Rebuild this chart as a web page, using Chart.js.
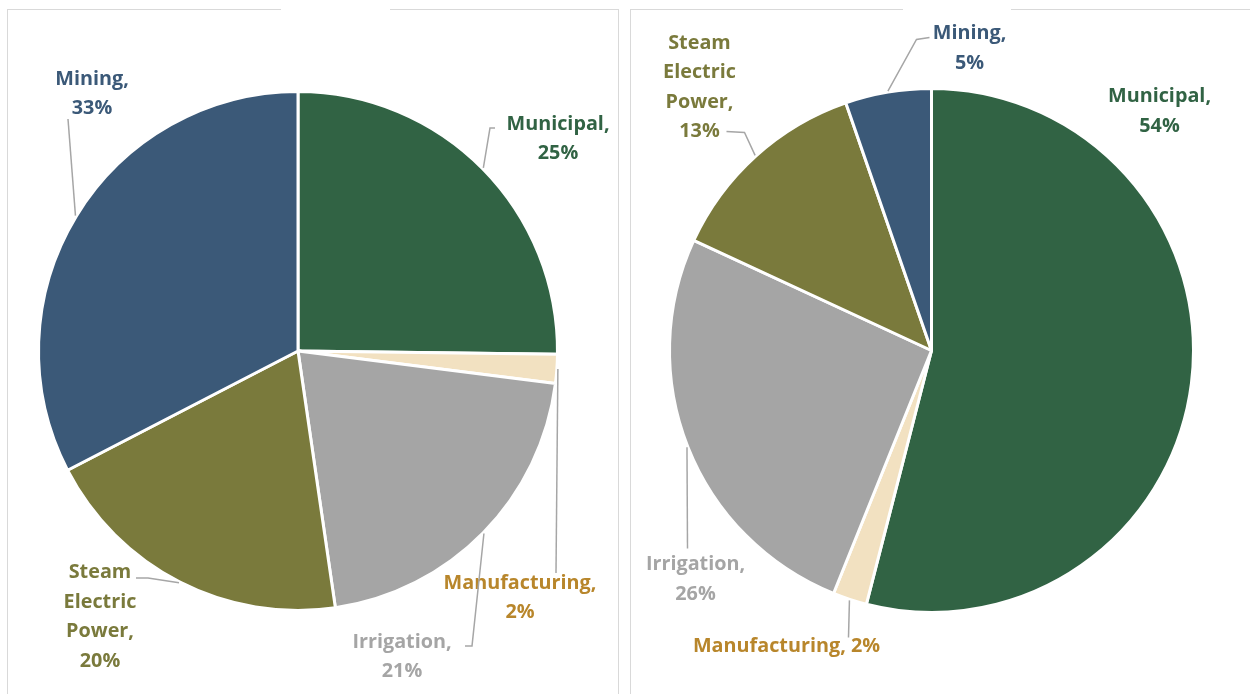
<!DOCTYPE html>
<html>
<head>
<meta charset="utf-8">
<script src="https://cdn.jsdelivr.net/npm/chart.js@4"></script>
<style>
  body { margin: 0; background: #fff; width: 1250px; height: 694px; overflow: hidden; position: relative; }
  .panel { position: absolute; border: 1.5px solid #d9d9d9; background: #fff; }
  #leftPanel { left: 7px; top: 9px; width: 610px; height: 700px; }
  #rightPanel { left: 630px; top: 9px; width: 640px; height: 700px; }
  .gap { position: absolute; top: 6px; height: 6px; background: #fff; }
  canvas { position: absolute; left: 0; top: 0; }
</style>
</head>
<body>
<div class="panel" id="leftPanel"><canvas id="leftChart"></canvas></div>
<div class="panel" id="rightPanel"><canvas id="rightChart"></canvas></div>
<div class="gap" style="left:281px;width:109px"></div>
<div class="gap" style="left:903px;width:108px"></div>
<script>
'use strict';

// categories in clockwise order from 12 o'clock
let leftCategories = ['Municipal', 'Manufacturing', 'Irrigation', 'Steam Electric Power', 'Mining'];
let leftValues = [25.2, 1.8, 20.7, 19.7, 32.6];
let leftLabels = ['25%', '2%', '21%', '20%', '33%'];

let rightCategories = ['Municipal', 'Manufacturing', 'Irrigation', 'Steam Electric Power', 'Mining'];
let rightValues = [54, 2.1, 25.8, 12.8, 5.3];
let rightLabels = ['54%', '2%', '26%', '13%', '5%'];

let sliceColors = {
  'Municipal': '#316344',
  'Manufacturing': '#f2e1c1',
  'Irrigation': '#a5a5a5',
  'Steam Electric Power': '#7a7a3c',
  'Mining': '#3b5978'
};
let textColors = {
  'Municipal': '#316344',
  'Manufacturing': '#b8862b',
  'Irrigation': '#a5a5a5',
  'Steam Electric Power': '#7a7a3c',
  'Mining': '#3b5978'
};

// label placement relative to the pie center: text block center, leader start, optional elbow
let leftLayout = [
  { lines: (c, p) => [c + ',', p], text: [260, -212], start: [197, -223], elbow: [192, -223] },
  { lines: (c, p) => [c + ',', p], text: [222, 247], start: [258, 222] },
  { lines: (c, p) => [c + ',', p], text: [104, 306], start: [167, 295], elbow: [174, 295] },
  { lines: (c, p) => ['Steam', 'Electric', 'Power,', p], text: [-198, 266], start: [-162, 227], elbow: [-150, 227] },
  { lines: (c, p) => [c + ',', p], text: [-206, -257], start: [-230, -232] }
];
let rightLayout = [
  { lines: (c, p) => [c + ',', p], text: [228, -239] },
  { lines: (c, p) => [c + ', ' + p], text: [-145, 296], start: [-83, 287] },
  { lines: (c, p) => [c + ',', p], text: [-236, 229], start: [-244, 198] },
  { lines: (c, p) => ['Steam', 'Electric', 'Power,', p], text: [-232, -263], start: [-205, -219], elbow: [-187, -218] },
  { lines: (c, p) => [c + ',', p], text: [38, -302], start: [-2, -313], elbow: [-15, -311] }
];

let labelPlugin = {
  id: 'pieLabels',
  afterDraw(chart, args, opts) {
    let ctx = chart.ctx;
    let meta = chart.getDatasetMeta(0);
    let cats = chart.data.labels;
    let pcts = opts.pcts;
    let layout = opts.layout;
    meta.data.forEach((arc, i) => {
      let cx = arc.x;
      let cy = arc.y;
      let lay = layout[i];
      let mid = (arc.startAngle + arc.endAngle) / 2;
      let r = arc.outerRadius;
      if (lay.start) {
        ctx.save();
        ctx.strokeStyle = '#a6a6a6';
        ctx.lineWidth = 1.5;
        ctx.beginPath();
        ctx.moveTo(cx + lay.start[0], cy + lay.start[1]);
        if (lay.elbow) ctx.lineTo(cx + lay.elbow[0], cy + lay.elbow[1]);
        ctx.lineTo(cx + Math.cos(mid) * (r + 1), cy + Math.sin(mid) * (r + 1));
        ctx.stroke();
        ctx.restore();
      }
      let lines = lay.lines(cats[i], pcts[i]);
      let lh = 29.5;
      ctx.save();
      ctx.font = 'bold 19.8px "Open Sans"';
      ctx.fillStyle = textColors[cats[i]];
      ctx.textAlign = 'center';
      ctx.textBaseline = 'middle';
      let y0 = cy + lay.text[1] - (lines.length - 1) * lh / 2;
      lines.forEach((t, k) => {
        ctx.fillText(t, cx + lay.text[0], y0 + k * lh);
      });
      ctx.restore();
    });
  }
};

function makePie(id, cats, values, pcts, layout, padding) {
  let ctx = document.getElementById(id).getContext('2d');
  // eslint-disable-next-line no-undef
  new Chart(ctx, {
    type: 'pie',
    data: {
      labels: cats,
      datasets: [{
        data: values,
        backgroundColor: cats.map(c => sliceColors[c]),
        borderColor: '#ffffff',
        borderWidth: 3
      }]
    },
    options: {
      responsive: false,
      animation: false,
      layout: { padding: padding },
      plugins: {
        legend: { display: false },
        tooltip: { enabled: false },
        pieLabels: { pcts: pcts, layout: layout }
      }
    },
    plugins: [labelPlugin]
  });
}

let lc = document.getElementById('leftChart');
lc.width = 610; lc.height = 690;
let rc = document.getElementById('rightChart');
rc.width = 640; rc.height = 690;

makePie('leftChart', leftCategories, leftValues, leftLabels, leftLayout,
  { left: 29, right: 59, top: 80, bottom: 88 });
makePie('rightChart', rightCategories, rightValues, rightLabels, rightLayout,
  { left: 37, right: 76, top: 77, bottom: 86 });
</script>
</body>
</html>
